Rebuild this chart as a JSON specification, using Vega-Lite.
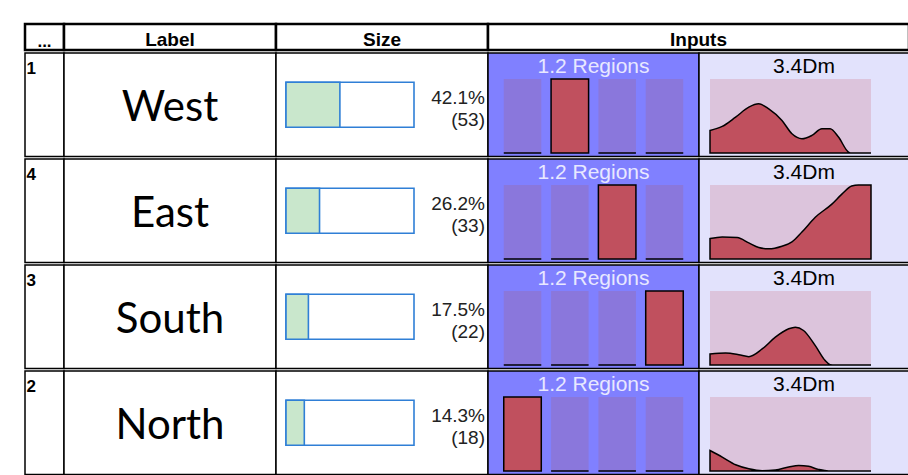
{
  "$schema": "https://vega.github.io/schema/vega-lite/v6.json",
  "padding": {"left": 23, "top": 22, "right": 0, "bottom": 0},
  "background": "white",
  "config": {"view": {"stroke": "black", "strokeWidth": 1.5}},
  "spacing": 0,
  "vconcat": [
    {
      "spacing": 0, "bounds": "flush",
      "hconcat": [
        {"width": 39, "height": 26, "view": {"fill": "white", "stroke": "black", "strokeWidth": 2.5},
         "data": {"values": [{"t": "..."}]},
         "mark": {"type": "text", "font": "Liberation Sans", "fontWeight": "bold", "fontSize": 17, "baseline": "alphabetic", "dy": 10},
         "encoding": {"text": {"field": "t", "type": "nominal"}}},
        {"width": 212, "height": 26, "view": {"fill": "white", "stroke": "black", "strokeWidth": 2.5},
         "data": {"values": [{"t": "Label"}]},
         "mark": {"type": "text", "font": "Liberation Sans", "fontWeight": "bold", "fontSize": 19, "dy": 3},
         "encoding": {"text": {"field": "t", "type": "nominal"}}},
        {"width": 212, "height": 26, "view": {"fill": "white", "stroke": "black", "strokeWidth": 2.5},
         "data": {"values": [{"t": "Size"}]},
         "mark": {"type": "text", "font": "Liberation Sans", "fontWeight": "bold", "fontSize": 19, "dy": 3},
         "encoding": {"text": {"field": "t", "type": "nominal"}}},
        {"width": 421, "height": 26, "view": {"fill": "white", "stroke": "black", "strokeWidth": 2.5},
         "data": {"values": [{"t": "Inputs"}]},
         "mark": {"type": "text", "font": "Liberation Sans", "fontWeight": "bold", "fontSize": 19, "dy": 3},
         "encoding": {"text": {"field": "t", "type": "nominal"}}}
      ]
    },
    {
      "spacing": 0, "bounds": "flush",
      "hconcat": [
        {"width": 39, "height": 103.5, "view": {"fill": "white", "stroke": "black", "strokeWidth": 1.5},
         "data": {"values": [{"id": "1"}]},
         "mark": {"type": "text", "font": "Liberation Sans", "fontWeight": "bold", "fontSize": 17, "align": "left", "baseline": "top", "dx": -18, "dy": -44},
         "encoding": {"text": {"field": "id", "type": "nominal"}}},
        {"width": 212, "height": 103.5, "view": {"fill": "white", "stroke": "black", "strokeWidth": 1.5},
         "data": {"values": [{"label": "West"}]},
         "mark": {"type": "text", "font": "Lato", "fontSize": 42, "color": "black", "dy": 3},
         "encoding": {"text": {"field": "label", "type": "nominal"}}},
        {"width": 212, "height": 103.5, "view": {"fill": "white", "stroke": "black", "strokeWidth": 1.5},
         "data": {"values": [{"label": "West", "lo": 0, "hi": 100, "pct": 42.1, "pctLabel": "42.1%", "countLabel": "(53)"}]},
         "encoding": {"y": {"field": "label", "type": "nominal", "axis": null}},
         "layer": [
           {"mark": {"type": "bar", "size": 45, "fill": "white", "stroke": "#2f7fd6", "strokeWidth": 1.6},
            "encoding": {"x": {"field": "lo", "type": "quantitative", "scale": {"domain": [0, 100], "range": [10, 138]}, "axis": null}, "x2": {"field": "hi"}}},
           {"mark": {"type": "bar", "size": 45, "fill": "#c9e7cc", "stroke": "#2f7fd6", "strokeWidth": 1.6},
            "encoding": {"x": {"field": "lo", "type": "quantitative"}, "x2": {"field": "pct"}}},
           {"mark": {"type": "text", "font": "Liberation Sans", "align": "right", "fontSize": 19, "color": "#222222", "dx": 103, "dy": -7},
            "encoding": {"text": {"field": "pctLabel", "type": "nominal"}}},
           {"mark": {"type": "text", "font": "Liberation Sans", "align": "right", "fontSize": 19, "color": "#222222", "dx": 103, "dy": 15},
            "encoding": {"text": {"field": "countLabel", "type": "nominal"}}}
         ]},
        {"width": 211, "height": 103.5, "view": {"fill": "#8080ff", "stroke": "black", "strokeWidth": 1.5},
         "layer": [
           {"data": {"values": [{"region": "North", "hl": 0, "full": 1}, {"region": "West", "hl": 1, "full": 1}, {"region": "East", "hl": 0, "full": 1}, {"region": "South", "hl": 0, "full": 1}]},
            "encoding": {"x": {"field": "region", "type": "nominal", "sort": ["North", "West", "East", "South"], "scale": {"paddingInner": 0.207, "paddingOuter": 0.333}, "axis": null}},
            "layer": [
              {"mark": {"type": "bar", "fill": "#8a77dc"},
               "encoding": {"y": {"field": "full", "type": "quantitative", "scale": {"domain": [0, 1], "range": [100, 26]}, "axis": null}}},
              {"mark": {"type": "bar", "fill": "#c0505e", "stroke": "black", "strokeWidth": 1.5},
               "encoding": {"y": {"field": "hl", "type": "quantitative"}}}
            ]},
           {"data": {"values": [{"title": "1.2 Regions"}]},
            "mark": {"type": "text", "font": "Liberation Sans", "fontSize": 21, "color": "#e8e8ff", "dy": -38},
            "encoding": {"text": {"field": "title", "type": "nominal"}}}
         ]},
        {"width": 210, "height": 103.5, "view": {"fill": "#e2e2fc", "stroke": "black", "strokeWidth": 1.5},
         "layer": [
           {"data": {"values": [{"t0": 0, "t1": 1, "v0": 0, "v1": 1}]},
            "mark": {"type": "rect", "fill": "#dcc4dc"},
            "encoding": {"x": {"field": "t0", "type": "quantitative", "scale": {"domain": [0, 1], "range": [11, 172]}, "axis": null}, "x2": {"field": "t1"},
                         "y": {"field": "v0", "type": "quantitative", "scale": {"domain": [0, 1], "range": [100, 26]}, "axis": null}, "y2": {"field": "v1"}}},
           {"data": {"values": [{"t": 0, "v": 0.305}, {"t": 0.076, "v": 0.359}, {"t": 0.159, "v": 0.484}, {"t": 0.241, "v": 0.619}, {"t": 0.303, "v": 0.664}, {"t": 0.365, "v": 0.596}, {"t": 0.447, "v": 0.439}, {"t": 0.509, "v": 0.26}, {"t": 0.571, "v": 0.193}, {"t": 0.633, "v": 0.238}, {"t": 0.695, "v": 0.327}, {"t": 0.746, "v": 0.327}, {"t": 0.798, "v": 0.215}, {"t": 0.86, "v": 0.013}, {"t": 0.88, "v": 0}, {"t": 1, "v": 0}]},
            "mark": {"type": "area", "fill": "#c0505e", "stroke": "black", "strokeWidth": 1.5, "interpolate": "monotone"},
            "encoding": {"x": {"field": "t", "type": "quantitative"}, "y": {"field": "v", "type": "quantitative"}}},
           {"data": {"values": [{"title": "3.4Dm"}]},
            "mark": {"type": "text", "font": "Liberation Sans", "fontSize": 21, "color": "black", "dy": -38},
            "encoding": {"text": {"field": "title", "type": "nominal"}}}
         ]}
      ]
    },
    {
      "spacing": 0, "bounds": "flush",
      "hconcat": [
        {"width": 39, "height": 103.5, "view": {"fill": "white", "stroke": "black", "strokeWidth": 1.5},
         "data": {"values": [{"id": "4"}]},
         "mark": {"type": "text", "font": "Liberation Sans", "fontWeight": "bold", "fontSize": 17, "align": "left", "baseline": "top", "dx": -18, "dy": -44},
         "encoding": {"text": {"field": "id", "type": "nominal"}}},
        {"width": 212, "height": 103.5, "view": {"fill": "white", "stroke": "black", "strokeWidth": 1.5},
         "data": {"values": [{"label": "East"}]},
         "mark": {"type": "text", "font": "Lato", "fontSize": 42, "color": "black", "dy": 3},
         "encoding": {"text": {"field": "label", "type": "nominal"}}},
        {"width": 212, "height": 103.5, "view": {"fill": "white", "stroke": "black", "strokeWidth": 1.5},
         "data": {"values": [{"label": "East", "lo": 0, "hi": 100, "pct": 26.2, "pctLabel": "26.2%", "countLabel": "(33)"}]},
         "encoding": {"y": {"field": "label", "type": "nominal", "axis": null}},
         "layer": [
           {"mark": {"type": "bar", "size": 45, "fill": "white", "stroke": "#2f7fd6", "strokeWidth": 1.6},
            "encoding": {"x": {"field": "lo", "type": "quantitative", "scale": {"domain": [0, 100], "range": [10, 138]}, "axis": null}, "x2": {"field": "hi"}}},
           {"mark": {"type": "bar", "size": 45, "fill": "#c9e7cc", "stroke": "#2f7fd6", "strokeWidth": 1.6},
            "encoding": {"x": {"field": "lo", "type": "quantitative"}, "x2": {"field": "pct"}}},
           {"mark": {"type": "text", "font": "Liberation Sans", "align": "right", "fontSize": 19, "color": "#222222", "dx": 103, "dy": -7},
            "encoding": {"text": {"field": "pctLabel", "type": "nominal"}}},
           {"mark": {"type": "text", "font": "Liberation Sans", "align": "right", "fontSize": 19, "color": "#222222", "dx": 103, "dy": 15},
            "encoding": {"text": {"field": "countLabel", "type": "nominal"}}}
         ]},
        {"width": 211, "height": 103.5, "view": {"fill": "#8080ff", "stroke": "black", "strokeWidth": 1.5},
         "layer": [
           {"data": {"values": [{"region": "North", "hl": 0, "full": 1}, {"region": "West", "hl": 0, "full": 1}, {"region": "East", "hl": 1, "full": 1}, {"region": "South", "hl": 0, "full": 1}]},
            "encoding": {"x": {"field": "region", "type": "nominal", "sort": ["North", "West", "East", "South"], "scale": {"paddingInner": 0.207, "paddingOuter": 0.333}, "axis": null}},
            "layer": [
              {"mark": {"type": "bar", "fill": "#8a77dc"},
               "encoding": {"y": {"field": "full", "type": "quantitative", "scale": {"domain": [0, 1], "range": [100, 26]}, "axis": null}}},
              {"mark": {"type": "bar", "fill": "#c0505e", "stroke": "black", "strokeWidth": 1.5},
               "encoding": {"y": {"field": "hl", "type": "quantitative"}}}
            ]},
           {"data": {"values": [{"title": "1.2 Regions"}]},
            "mark": {"type": "text", "font": "Liberation Sans", "fontSize": 21, "color": "#e8e8ff", "dy": -38},
            "encoding": {"text": {"field": "title", "type": "nominal"}}}
         ]},
        {"width": 210, "height": 103.5, "view": {"fill": "#e2e2fc", "stroke": "black", "strokeWidth": 1.5},
         "layer": [
           {"data": {"values": [{"t0": 0, "t1": 1, "v0": 0, "v1": 1}]},
            "mark": {"type": "rect", "fill": "#dcc4dc"},
            "encoding": {"x": {"field": "t0", "type": "quantitative", "scale": {"domain": [0, 1], "range": [11, 172]}, "axis": null}, "x2": {"field": "t1"},
                         "y": {"field": "v0", "type": "quantitative", "scale": {"domain": [0, 1], "range": [100, 26]}, "axis": null}, "y2": {"field": "v1"}}},
           {"data": {"values": [{"t": 0, "v": 0.276}, {"t": 0.076, "v": 0.298}, {"t": 0.169, "v": 0.289}, {"t": 0.241, "v": 0.218}, {"t": 0.303, "v": 0.156}, {"t": 0.365, "v": 0.138}, {"t": 0.447, "v": 0.173}, {"t": 0.509, "v": 0.231}, {"t": 0.571, "v": 0.364}, {"t": 0.654, "v": 0.564}, {"t": 0.757, "v": 0.742}, {"t": 0.819, "v": 0.876}, {"t": 0.88, "v": 0.987}, {"t": 0.922, "v": 1}, {"t": 1, "v": 1}]},
            "mark": {"type": "area", "fill": "#c0505e", "stroke": "black", "strokeWidth": 1.5, "interpolate": "monotone"},
            "encoding": {"x": {"field": "t", "type": "quantitative"}, "y": {"field": "v", "type": "quantitative"}}},
           {"data": {"values": [{"title": "3.4Dm"}]},
            "mark": {"type": "text", "font": "Liberation Sans", "fontSize": 21, "color": "black", "dy": -38},
            "encoding": {"text": {"field": "title", "type": "nominal"}}}
         ]}
      ]
    },
    {
      "spacing": 0, "bounds": "flush",
      "hconcat": [
        {"width": 39, "height": 103.5, "view": {"fill": "white", "stroke": "black", "strokeWidth": 1.5},
         "data": {"values": [{"id": "3"}]},
         "mark": {"type": "text", "font": "Liberation Sans", "fontWeight": "bold", "fontSize": 17, "align": "left", "baseline": "top", "dx": -18, "dy": -44},
         "encoding": {"text": {"field": "id", "type": "nominal"}}},
        {"width": 212, "height": 103.5, "view": {"fill": "white", "stroke": "black", "strokeWidth": 1.5},
         "data": {"values": [{"label": "South"}]},
         "mark": {"type": "text", "font": "Lato", "fontSize": 42, "color": "black", "dy": 3},
         "encoding": {"text": {"field": "label", "type": "nominal"}}},
        {"width": 212, "height": 103.5, "view": {"fill": "white", "stroke": "black", "strokeWidth": 1.5},
         "data": {"values": [{"label": "South", "lo": 0, "hi": 100, "pct": 17.5, "pctLabel": "17.5%", "countLabel": "(22)"}]},
         "encoding": {"y": {"field": "label", "type": "nominal", "axis": null}},
         "layer": [
           {"mark": {"type": "bar", "size": 45, "fill": "white", "stroke": "#2f7fd6", "strokeWidth": 1.6},
            "encoding": {"x": {"field": "lo", "type": "quantitative", "scale": {"domain": [0, 100], "range": [10, 138]}, "axis": null}, "x2": {"field": "hi"}}},
           {"mark": {"type": "bar", "size": 45, "fill": "#c9e7cc", "stroke": "#2f7fd6", "strokeWidth": 1.6},
            "encoding": {"x": {"field": "lo", "type": "quantitative"}, "x2": {"field": "pct"}}},
           {"mark": {"type": "text", "font": "Liberation Sans", "align": "right", "fontSize": 19, "color": "#222222", "dx": 103, "dy": -7},
            "encoding": {"text": {"field": "pctLabel", "type": "nominal"}}},
           {"mark": {"type": "text", "font": "Liberation Sans", "align": "right", "fontSize": 19, "color": "#222222", "dx": 103, "dy": 15},
            "encoding": {"text": {"field": "countLabel", "type": "nominal"}}}
         ]},
        {"width": 211, "height": 103.5, "view": {"fill": "#8080ff", "stroke": "black", "strokeWidth": 1.5},
         "layer": [
           {"data": {"values": [{"region": "North", "hl": 0, "full": 1}, {"region": "West", "hl": 0, "full": 1}, {"region": "East", "hl": 0, "full": 1}, {"region": "South", "hl": 1, "full": 1}]},
            "encoding": {"x": {"field": "region", "type": "nominal", "sort": ["North", "West", "East", "South"], "scale": {"paddingInner": 0.207, "paddingOuter": 0.333}, "axis": null}},
            "layer": [
              {"mark": {"type": "bar", "fill": "#8a77dc"},
               "encoding": {"y": {"field": "full", "type": "quantitative", "scale": {"domain": [0, 1], "range": [100, 26]}, "axis": null}}},
              {"mark": {"type": "bar", "fill": "#c0505e", "stroke": "black", "strokeWidth": 1.5},
               "encoding": {"y": {"field": "hl", "type": "quantitative"}}}
            ]},
           {"data": {"values": [{"title": "1.2 Regions"}]},
            "mark": {"type": "text", "font": "Liberation Sans", "fontSize": 21, "color": "#e8e8ff", "dy": -38},
            "encoding": {"text": {"field": "title", "type": "nominal"}}}
         ]},
        {"width": 210, "height": 103.5, "view": {"fill": "#e2e2fc", "stroke": "black", "strokeWidth": 1.5},
         "layer": [
           {"data": {"values": [{"t0": 0, "t1": 1, "v0": 0, "v1": 1}]},
            "mark": {"type": "rect", "fill": "#dcc4dc"},
            "encoding": {"x": {"field": "t0", "type": "quantitative", "scale": {"domain": [0, 1], "range": [11, 172]}, "axis": null}, "x2": {"field": "t1"},
                         "y": {"field": "v0", "type": "quantitative", "scale": {"domain": [0, 1], "range": [100, 26]}, "axis": null}, "y2": {"field": "v1"}}},
           {"data": {"values": [{"t": 0, "v": 0.149}, {"t": 0.097, "v": 0.163}, {"t": 0.179, "v": 0.14}, {"t": 0.241, "v": 0.113}, {"t": 0.324, "v": 0.217}, {"t": 0.406, "v": 0.376}, {"t": 0.489, "v": 0.489}, {"t": 0.53, "v": 0.511}, {"t": 0.581, "v": 0.466}, {"t": 0.654, "v": 0.262}, {"t": 0.716, "v": 0.059}, {"t": 0.746, "v": 0.005}, {"t": 0.777, "v": 0}, {"t": 1, "v": 0}]},
            "mark": {"type": "area", "fill": "#c0505e", "stroke": "black", "strokeWidth": 1.5, "interpolate": "monotone"},
            "encoding": {"x": {"field": "t", "type": "quantitative"}, "y": {"field": "v", "type": "quantitative"}}},
           {"data": {"values": [{"title": "3.4Dm"}]},
            "mark": {"type": "text", "font": "Liberation Sans", "fontSize": 21, "color": "black", "dy": -38},
            "encoding": {"text": {"field": "title", "type": "nominal"}}}
         ]}
      ]
    },
    {
      "spacing": 0, "bounds": "flush",
      "hconcat": [
        {"width": 39, "height": 103.5, "view": {"fill": "white", "stroke": "black", "strokeWidth": 1.5},
         "data": {"values": [{"id": "2"}]},
         "mark": {"type": "text", "font": "Liberation Sans", "fontWeight": "bold", "fontSize": 17, "align": "left", "baseline": "top", "dx": -18, "dy": -44},
         "encoding": {"text": {"field": "id", "type": "nominal"}}},
        {"width": 212, "height": 103.5, "view": {"fill": "white", "stroke": "black", "strokeWidth": 1.5},
         "data": {"values": [{"label": "North"}]},
         "mark": {"type": "text", "font": "Lato", "fontSize": 42, "color": "black", "dy": 3},
         "encoding": {"text": {"field": "label", "type": "nominal"}}},
        {"width": 212, "height": 103.5, "view": {"fill": "white", "stroke": "black", "strokeWidth": 1.5},
         "data": {"values": [{"label": "North", "lo": 0, "hi": 100, "pct": 14.3, "pctLabel": "14.3%", "countLabel": "(18)"}]},
         "encoding": {"y": {"field": "label", "type": "nominal", "axis": null}},
         "layer": [
           {"mark": {"type": "bar", "size": 45, "fill": "white", "stroke": "#2f7fd6", "strokeWidth": 1.6},
            "encoding": {"x": {"field": "lo", "type": "quantitative", "scale": {"domain": [0, 100], "range": [10, 138]}, "axis": null}, "x2": {"field": "hi"}}},
           {"mark": {"type": "bar", "size": 45, "fill": "#c9e7cc", "stroke": "#2f7fd6", "strokeWidth": 1.6},
            "encoding": {"x": {"field": "lo", "type": "quantitative"}, "x2": {"field": "pct"}}},
           {"mark": {"type": "text", "font": "Liberation Sans", "align": "right", "fontSize": 19, "color": "#222222", "dx": 103, "dy": -7},
            "encoding": {"text": {"field": "pctLabel", "type": "nominal"}}},
           {"mark": {"type": "text", "font": "Liberation Sans", "align": "right", "fontSize": 19, "color": "#222222", "dx": 103, "dy": 15},
            "encoding": {"text": {"field": "countLabel", "type": "nominal"}}}
         ]},
        {"width": 211, "height": 103.5, "view": {"fill": "#8080ff", "stroke": "black", "strokeWidth": 1.5},
         "layer": [
           {"data": {"values": [{"region": "North", "hl": 1, "full": 1}, {"region": "West", "hl": 0, "full": 1}, {"region": "East", "hl": 0, "full": 1}, {"region": "South", "hl": 0, "full": 1}]},
            "encoding": {"x": {"field": "region", "type": "nominal", "sort": ["North", "West", "East", "South"], "scale": {"paddingInner": 0.207, "paddingOuter": 0.333}, "axis": null}},
            "layer": [
              {"mark": {"type": "bar", "fill": "#8a77dc"},
               "encoding": {"y": {"field": "full", "type": "quantitative", "scale": {"domain": [0, 1], "range": [100, 26]}, "axis": null}}},
              {"mark": {"type": "bar", "fill": "#c0505e", "stroke": "black", "strokeWidth": 1.5},
               "encoding": {"y": {"field": "hl", "type": "quantitative"}}}
            ]},
           {"data": {"values": [{"title": "1.2 Regions"}]},
            "mark": {"type": "text", "font": "Liberation Sans", "fontSize": 21, "color": "#e8e8ff", "dy": -38},
            "encoding": {"text": {"field": "title", "type": "nominal"}}}
         ]},
        {"width": 210, "height": 103.5, "view": {"fill": "#e2e2fc", "stroke": "black", "strokeWidth": 1.5},
         "layer": [
           {"data": {"values": [{"t0": 0, "t1": 1, "v0": 0, "v1": 1}]},
            "mark": {"type": "rect", "fill": "#dcc4dc"},
            "encoding": {"x": {"field": "t0", "type": "quantitative", "scale": {"domain": [0, 1], "range": [11, 172]}, "axis": null}, "x2": {"field": "t1"},
                         "y": {"field": "v0", "type": "quantitative", "scale": {"domain": [0, 1], "range": [100, 26]}, "axis": null}, "y2": {"field": "v1"}}},
           {"data": {"values": [{"t": 0, "v": 0.277}, {"t": 0.076, "v": 0.188}, {"t": 0.159, "v": 0.085}, {"t": 0.241, "v": 0.031}, {"t": 0.324, "v": 0.004}, {"t": 0.406, "v": 0.013}, {"t": 0.489, "v": 0.054}, {"t": 0.551, "v": 0.076}, {"t": 0.612, "v": 0.063}, {"t": 0.674, "v": 0.022}, {"t": 0.736, "v": 0}, {"t": 1, "v": 0}]},
            "mark": {"type": "area", "fill": "#c0505e", "stroke": "black", "strokeWidth": 1.5, "interpolate": "monotone"},
            "encoding": {"x": {"field": "t", "type": "quantitative"}, "y": {"field": "v", "type": "quantitative"}}},
           {"data": {"values": [{"title": "3.4Dm"}]},
            "mark": {"type": "text", "font": "Liberation Sans", "fontSize": 21, "color": "black", "dy": -38},
            "encoding": {"text": {"field": "title", "type": "nominal"}}}
         ]}
      ]
    }
  ]
}
